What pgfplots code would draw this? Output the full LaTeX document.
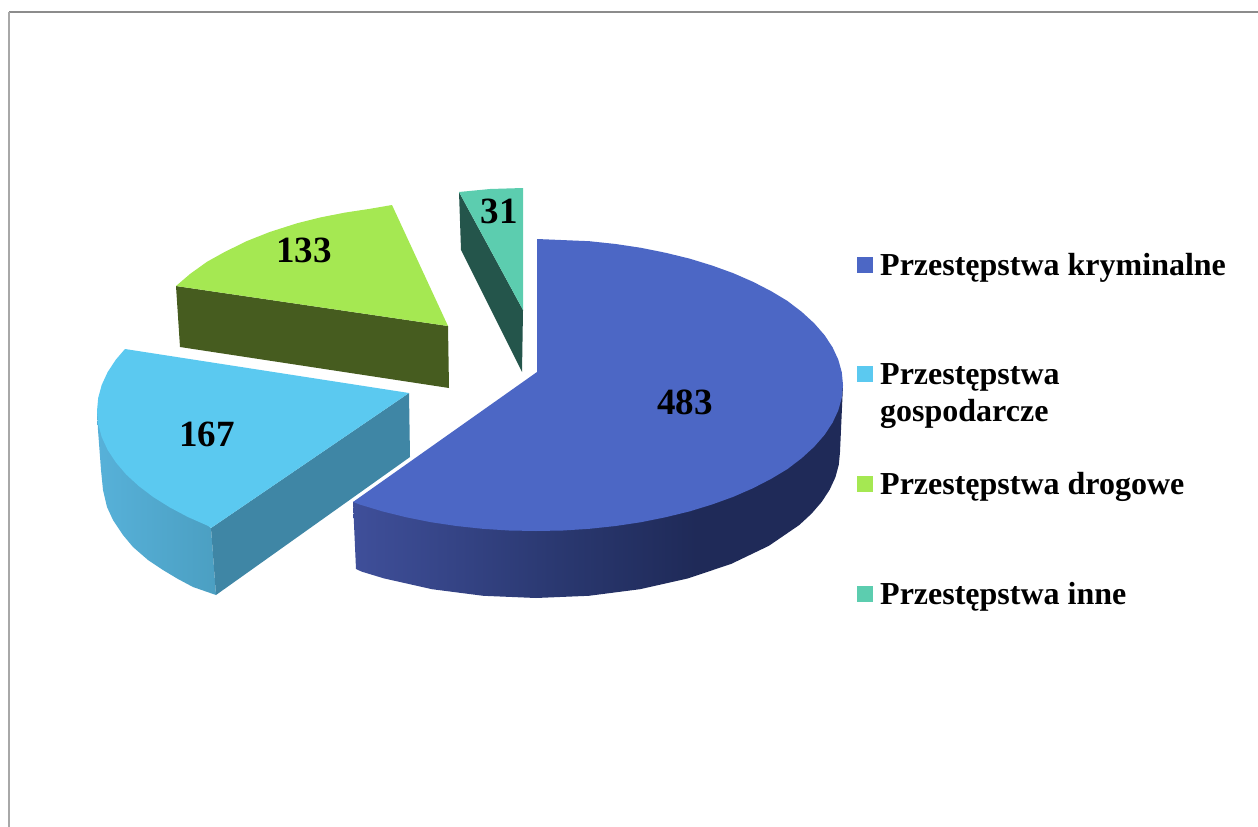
\documentclass[border=0pt]{standalone}
\usepackage{pgfplots}
\pgfplotsset{compat=1.18}
\usepackage{fontspec}
\setmainfont{Liberation Serif}
\definecolor{bluetop}{HTML}{4C67C5}
\definecolor{bluea}{HTML}{3F4F9A}
\definecolor{blueb}{HTML}{2A3870}
\definecolor{bluec}{HTML}{1F2A58}
\definecolor{cyantop}{HTML}{5BC9F0}
\definecolor{cyana}{HTML}{57B1D9}
\definecolor{cyanb}{HTML}{4B9FC2}
\definecolor{cyanside}{HTML}{3F86A5}
\definecolor{greentop}{HTML}{A5E852}
\definecolor{greenside}{HTML}{465C1F}
\definecolor{tealtop}{HTML}{5CCDAF}
\definecolor{tealside}{HTML}{24554B}
\definecolor{frametop}{HTML}{8C8C8C}
\definecolor{frameleft}{HTML}{A8A8A8}
\pgfdeclarehorizontalshading{blueside}{100bp}{color(0bp)=(bluea); color(25bp)=(bluea); color(46bp)=(blueb); color(60bp)=(bluec); color(100bp)=(bluec)}
\pgfdeclarehorizontalshading{cyanshade}{100bp}{color(0bp)=(cyana); color(25bp)=(cyana); color(75bp)=(cyanb); color(100bp)=(cyanb)}
\newcommand{\labelfont}{\fontsize{37bp}{40bp}\selectfont\bfseries}
\newcommand{\legfont}{\fontsize{32bp}{37bp}\selectfont\bfseries}
\begin{document}
\begin{tikzpicture}
\begin{axis}[
  scale only axis, width=1258bp, height=827bp,
  xmin=0, xmax=1258, ymin=0, ymax=827, y dir=reverse,
  enlargelimits=false, hide axis, clip=true,
]
% page extent
\addplot[draw=none, forget plot] coordinates {(0,0) (1258,827)};
% frame
\addplot[draw=frametop, line width=1.6bp, forget plot] coordinates {(9,12) (1258,12)};
\addplot[draw=frameleft, line width=1.8bp, forget plot] coordinates {(9,12) (9,827)};

% teal slice (31)
\addplot[fill=tealside, draw=none] coordinates {(459,192) (523,310) (522,372) (461,250)} -- cycle;
\addplot[fill=tealtop, draw=none] coordinates {(459,192) (490,189) (523,188) (523,310)} -- cycle;

% green slice (133)
\addplot[fill=greenside, draw=none] coordinates {(176,286) (448,326) (449,388) (180,347)} -- cycle;
\addplot[fill=greentop, draw=none] coordinates {(448,326) (392,205) (370,208.8) (345,212.6) (320,217.5) (297,223.3) (270,231.9) (247,241) (225,251.8) (207,261.8) (190,274) (176,286)} -- cycle;

% cyan slice (167)
\addplot[shading=cyanshade, shading angle=0, draw=none] coordinates {(97,411) (98,430) (101,470) (103,490) (107,507) (113,520) (123,535) (133,547) (148,560) (163,570) (178,579) (193,587) (216,595) (211,528) (160,480)} -- cycle;
\addplot[fill=cyanside, draw=none] coordinates {(409,393) (410,457) (216,595) (211,528)} -- cycle;
\addplot[fill=cyantop, draw=none] coordinates {(409,393) (125,349) (115.8,359.7) (107.6,372.2) (101.7,385) (98.2,397.9) (97,411) (98.2,424.1) (101.7,437) (107.6,449.8) (115.8,462.3) (126.1,474.4) (138.7,486) (153.2,497) (169.8,507.4) (188.1,517.1) (208.1,525.9) (211,528)} -- cycle;

% blue slice (483)
\addplot[shading=blueside, shading angle=0, draw=none] coordinates {(843,385) (840,452) (838.8,464.7) (835.4,477.3) (829.6,489.8) (821.7,501.9) (811.5,513.7) (799.3,525) (768.9,545.8) (731.4,563.8) (688,578.4) (640,589.2) (588.8,595.8) (536,598) (483.2,595.8) (432,589.2) (384,578.4) (361.6,571.6) (356,569) (353,502) (536,450)} -- cycle;
\addplot[fill=bluetop, draw=none] coordinates {(537,372) (537,239) (589.3,241.2) (615.6,244) (641,247.8) (665.7,252.8) (689.5,258.6) (712,265.5) (733.3,273.2) (753,281.8) (771.2,291.2) (787.5,301) (801.9,312) (814.2,323.3) (824.5,335.1) (832.5,347.2) (838.3,359.7) (841.8,372.3) (843,385) (841.8,397.7) (838.3,410.3) (832.5,422.8) (824.5,434.9) (814.2,446.7) (801.9,458) (787.5,469) (771.2,478.8) (753,488.2) (733.3,496.8) (712,504.5) (689.5,511.4) (665.7,517.2) (641,522.2) (615.6,526) (589.3,528.8) (563,530.5) (536,531) (509,530.5) (482.7,528.8) (456.4,526) (431,522.2) (406,517.2) (382.5,511.4) (360,504.6) (353,502)} -- cycle;

% legend keys
\addplot[fill=bluetop, draw=none] coordinates {(857,257) (873,257) (873,273) (857,273)} -- cycle;
\addplot[fill=cyantop, draw=none] coordinates {(857,366) (873,366) (873,382) (857,382)} -- cycle;
\addplot[fill=greentop, draw=none] coordinates {(857,476) (873,476) (873,492) (857,492)} -- cycle;
\addplot[fill=tealtop, draw=none] coordinates {(857,586) (873,586) (873,602) (857,602)} -- cycle;

% legend text
\node[anchor=base west, inner sep=0pt, font=\legfont] at (axis cs:880,275) {Przestępstwa kryminalne};
\node[anchor=base west, inner sep=0pt, font=\legfont] at (axis cs:880,384) {Przestępstwa};
\node[anchor=base west, inner sep=0pt, font=\legfont] at (axis cs:880,421) {gospodarcze};
\node[anchor=base west, inner sep=0pt, font=\legfont] at (axis cs:880,494) {Przestępstwa drogowe};
\node[anchor=base west, inner sep=0pt, font=\legfont] at (axis cs:880,604) {Przestępstwa inne};

% data labels
\node[anchor=base, inner sep=0pt, font=\labelfont] at (axis cs:685,414) {483};
\node[anchor=base, inner sep=0pt, font=\labelfont] at (axis cs:207,446) {167};
\node[anchor=base, inner sep=0pt, font=\labelfont] at (axis cs:304,262) {133};
\node[anchor=base, inner sep=0pt, font=\labelfont] at (axis cs:499,223) {31};
\end{axis}
\end{tikzpicture}
\end{document}
